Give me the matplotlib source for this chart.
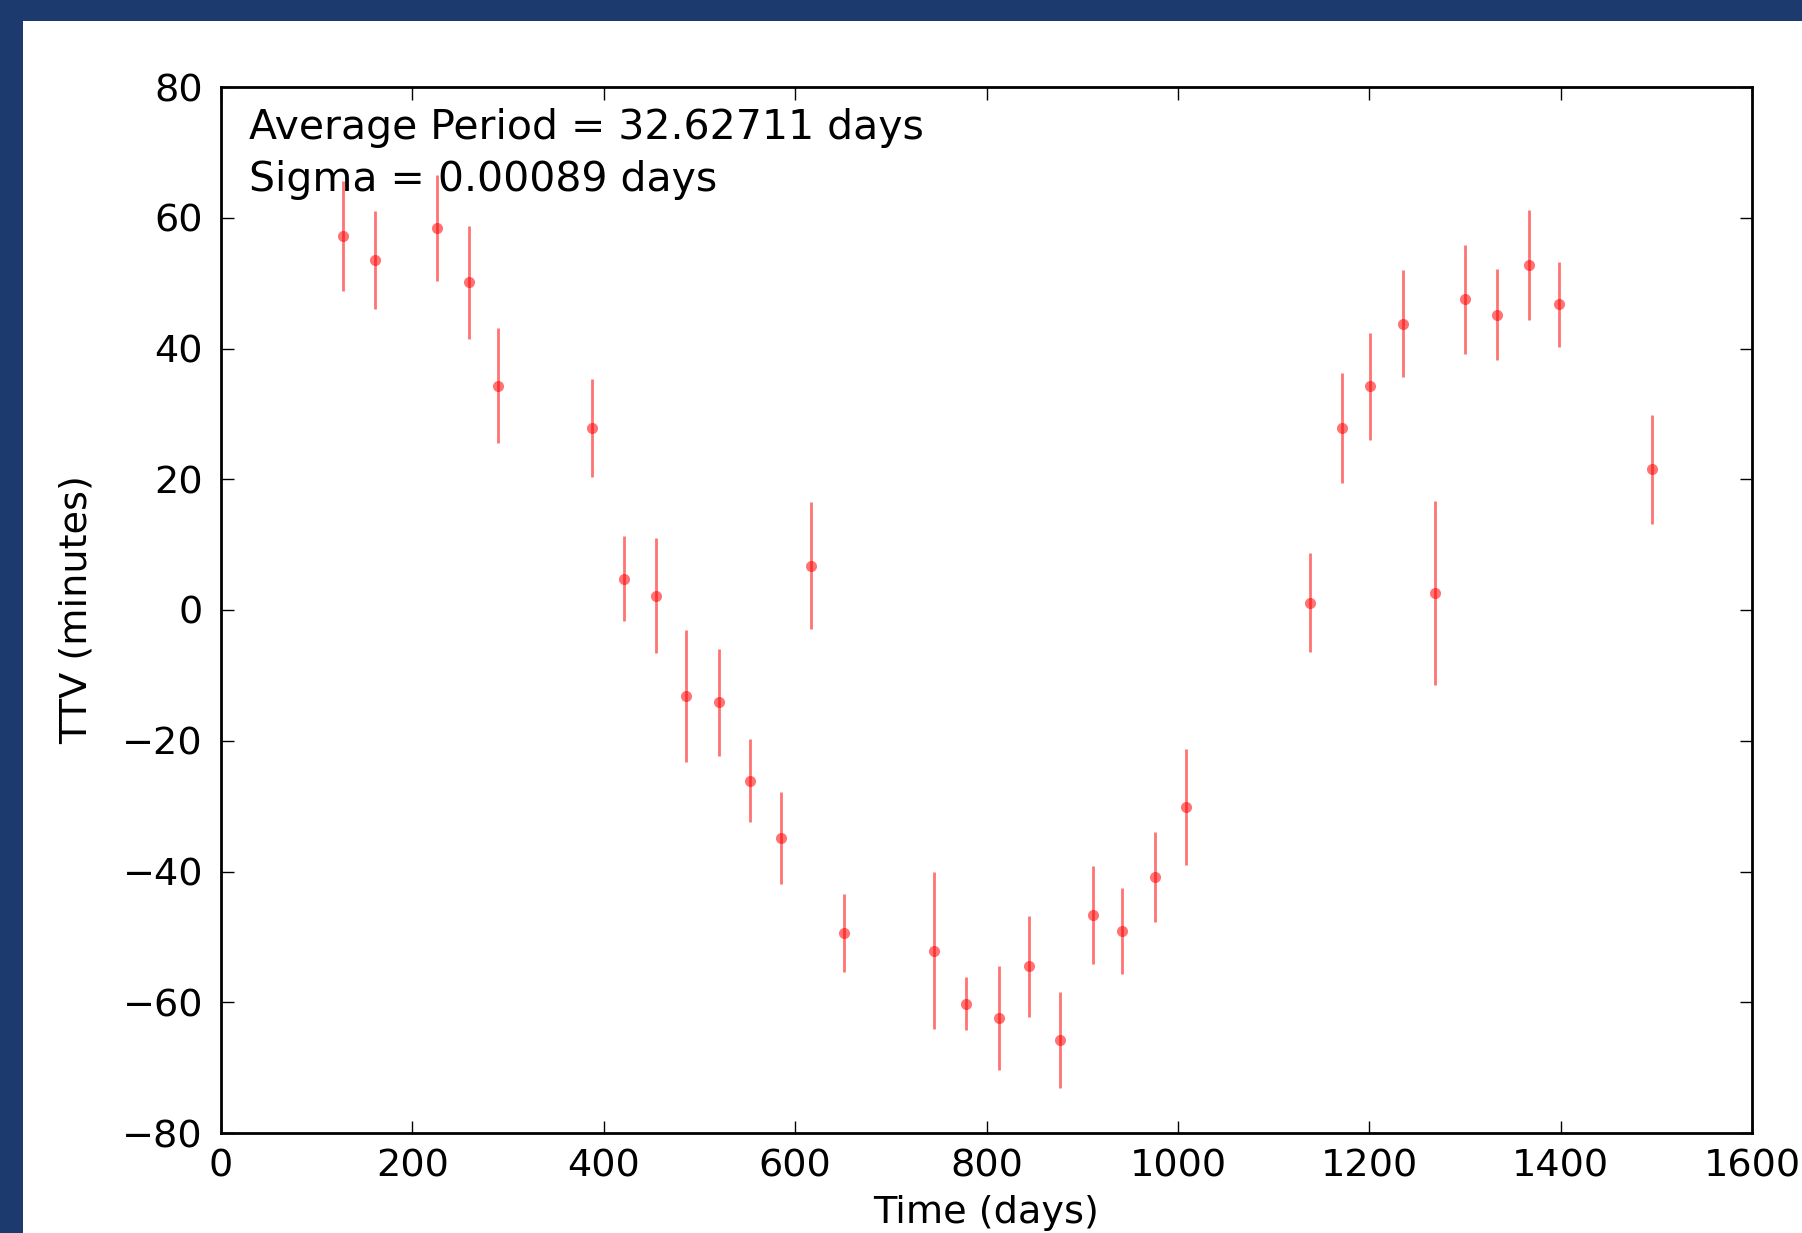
"""TTV plot: transit timing variations against time."""
import matplotlib
matplotlib.use("Agg")
import matplotlib.pyplot as plt
from matplotlib.patches import Rectangle

# transit times (days) and timing variations (minutes)
time_days = [127, 161, 226, 259, 289, 388, 421, 455, 486, 520, 553, 585, 617,
             651, 745, 779, 813, 844, 877, 911, 942, 976, 1009, 1138, 1171,
             1201, 1235, 1269, 1300, 1334, 1367, 1398, 1496]
ttv_minutes = [57.2, 53.5, 58.4, 50.1, 34.3, 27.8, 4.8, 2.2, -13.1, -14.1,
               -26.1, -34.9, 6.8, -49.4, -52.1, -60.2, -62.4, -54.5, -65.8,
               -46.6, -49.1, -40.8, -30.1, 1.1, 27.8, 34.2, 43.8, 2.6, 47.5,
               45.2, 52.8, 46.8, 21.5]
ttv_err = [8.4, 7.5, 8.1, 8.7, 8.8, 7.5, 6.5, 8.8, 10.1, 8.2, 6.4, 7.0, 9.7,
           6.0, 12.0, 4.0, 7.9, 7.7, 7.3, 7.5, 6.6, 6.9, 8.9, 7.6, 8.4, 8.2,
           8.2, 14.1, 8.4, 6.9, 8.4, 6.5, 8.3]

avg_period = "32.62711"
sigma = "0.00089"

W, H = 1802, 1233
fig = plt.figure(figsize=(W / 100, H / 100), dpi=100, facecolor="#1c3a6e")
# white panel, cut off at right and bottom like a cropped screenshot
fig.patches.append(Rectangle((23 / W, 0), 1, 1 - 21 / H, transform=fig.transFigure,
                             facecolor="white", edgecolor="none", zorder=-10))

ax = fig.add_axes([221 / W, 1 - 1133 / H, (1752 - 221) / W, (1133 - 87) / H])
ax.errorbar(time_days, ttv_minutes, yerr=ttv_err, fmt="o", color="red",
            alpha=0.55, markersize=8, markeredgewidth=0, elinewidth=2, capsize=0)

ax.set_xlim(0, 1600)
ax.set_ylim(-80, 80)
ax.set_xticks(range(0, 1601, 200))
ax.set_yticks(range(-80, 81, 20))
ax.tick_params(direction="in", top=True, right=True, length=9, width=1,
               labelsize=27.5, colors="black")
ax.tick_params(axis="x", pad=11)
ax.tick_params(axis="y", pad=13)
for s in ax.spines.values():
    s.set_linewidth(2)

ax.set_xlabel("Time (days)", fontsize=27.5, labelpad=8)
ax.set_ylabel("TTV (minutes)", fontsize=27.5, labelpad=20)

ax.text(0.018, 0.98,
        f"Average Period = {avg_period} days\nSigma = {sigma} days",
        transform=ax.transAxes, ha="left", va="top", fontsize=29.5,
        linespacing=1.38)

fig.savefig("out.png", dpi=100, facecolor=fig.get_facecolor())
